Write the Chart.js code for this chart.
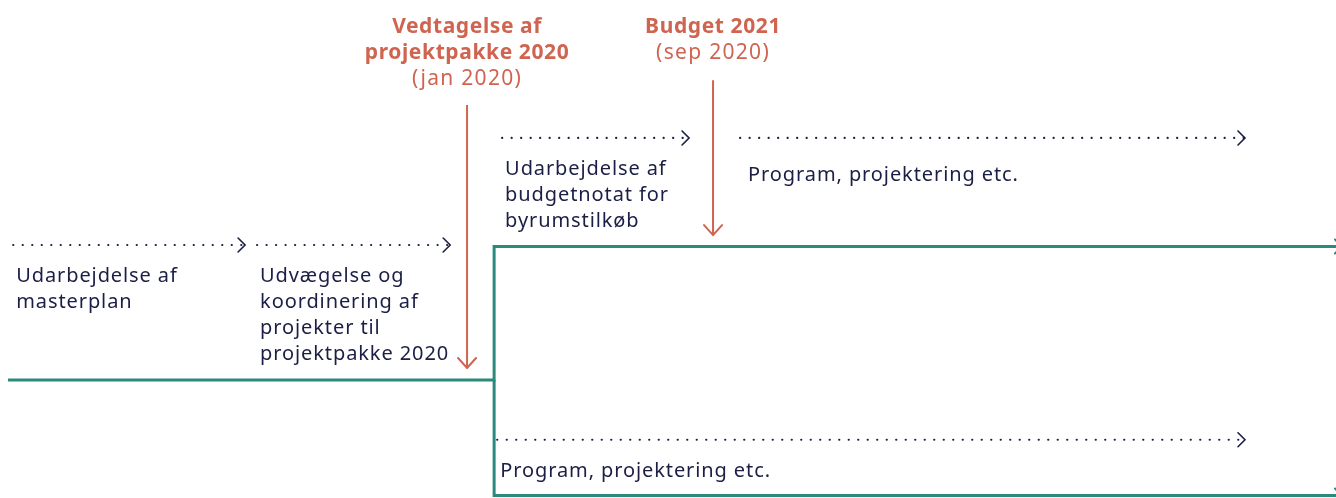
<!DOCTYPE html>
<html>
<head>
<meta charset="utf-8">
<script src="https://cdn.jsdelivr.net/npm/chart.js@4"></script>
<style>
  body { margin: 0; background: #fff; }
  #wrap { width: 1336px; height: 498px; }
</style>
</head>
<body>
<div id="wrap"><canvas id="timeline" width="1336" height="498"></canvas></div>
<script>
// x = months relative to jan 2020, y = vertical position in % of height
const phaseLabels = [
  ['Udarbejdelse af', 'masterplan'],
  ['Udvægelse og', 'koordinering af', 'projekter til', 'projektpakke 2020'],
  ['Udarbejdelse af', 'budgetnotat for', 'byrumstilkøb'],
  ['Program, projektering etc.'],
  ['Program, projektering etc.']
];
const phaseStart = [-14.76, -6.83, 1.14, 8.88, 0.98];
const phaseEnd = [-7.22, -0.55, 7.22, 25.3, 25.3];
const phaseLevel = [49.2, 49.2, 27.7, 27.7, 88.3];

const milestoneTitle = [['Vedtagelse af', 'projektpakke 2020'], ['Budget 2021']];
const milestoneDate = ['(jan 2020)', '(sep 2020)'];
const milestoneMonth = [0, 8];
const milestoneTop = [21.1, 16.1];
const milestoneBottom = [73.9, 47.2];

const trackX = [-14.93, 0.88, 0.88, 29.5];
const trackY = [76.3, 76.3, 49.5, 49.5];
const branchX = [0.88, 0.88, 29.5];
const branchY = [76.3, 99.5, 99.5];

const navy = '#1b1e45';
const salmon = '#cf6450';
const teal = '#2a8a7d';
const bodyFont = '"Noto Sans", sans-serif';

const pts = (xs, ys) => xs.map((x, i) => ({ x: x, y: ys[i] }));

const datasets = [];
datasets.push({ data: pts(trackX, trackY), borderColor: teal, borderWidth: 3, tip: 'teal' });
datasets.push({ data: pts(branchX, branchY), borderColor: teal, borderWidth: 3, tip: 'teal' });
phaseStart.forEach((s, i) => {
  datasets.push({
    data: [{ x: s, y: phaseLevel[i] }, { x: phaseEnd[i], y: phaseLevel[i] }],
    borderColor: navy, borderWidth: 2.2, borderDash: [0.1, 9.4], borderCapStyle: 'round',
    tip: 'dots', label: phaseLabels[i]
  });
});
milestoneMonth.forEach((m, i) => {
  datasets.push({
    data: [{ x: m, y: milestoneTop[i] }, { x: m, y: milestoneBottom[i] }],
    borderColor: salmon, borderWidth: 2, tip: 'down', title: milestoneTitle[i], date: milestoneDate[i]
  });
});

const decor = {
  id: 'decor',
  afterDatasetsDraw(chart) {
    const ctx = chart.ctx;
    const xs = chart.scales.x, ys = chart.scales.y;
    ctx.save();
    chart.data.datasets.forEach((ds) => {
      const last = ds.data[ds.data.length - 1];
      const first = ds.data[0];
      const px = xs.getPixelForValue(last.x), py = ys.getPixelForValue(last.y);
      ctx.lineCap = 'round';
      ctx.lineJoin = 'miter';
      ctx.letterSpacing = '0px';
      if (ds.tip === 'dots' || ds.tip === 'teal') {
        ctx.strokeStyle = ds.borderColor;
        ctx.lineWidth = ds.tip === 'teal' ? 2 : 1.6;
        const tx = ds.tip === 'teal' ? 1342 : px;
        ctx.beginPath();
        ctx.moveTo(tx - 7, py - 7);
        ctx.lineTo(tx, py);
        ctx.lineTo(tx - 7, py + 7);
        ctx.stroke();
      }
      if (ds.tip === 'dots') {
        const sx = xs.getPixelForValue(first.x);
        ctx.fillStyle = navy;
        ctx.font = '20px ' + bodyFont;
        ctx.letterSpacing = '0.9px';
        ctx.textAlign = 'left';
        ctx.textBaseline = 'alphabetic';
        const off = ds.label.length === 1 && first.y < 50 ? [8, 43] : [3, 37];
        ds.label.forEach((t, k) => ctx.fillText(t, sx + off[0], py + off[1] + k * 26));
      }
      if (ds.tip === 'down') {
        ctx.strokeStyle = salmon;
        ctx.lineWidth = 2;
        ctx.beginPath();
        ctx.moveTo(px - 9, py - 10);
        ctx.lineTo(px, py);
        ctx.lineTo(px + 9, py - 10);
        ctx.stroke();
        ctx.fillStyle = salmon;
        ctx.textAlign = 'center';
        ctx.font = 'bold 21px ' + bodyFont;
        ctx.letterSpacing = '0.6px';
        ds.title.forEach((t, k) => ctx.fillText(t, px, 33 + k * 26));
        ctx.font = '21px ' + bodyFont;
        ctx.letterSpacing = '1.3px';
        ctx.fillText(ds.date, px, 33 + ds.title.length * 26);
      }
    });
    ctx.restore();
  }
};

new Chart(document.getElementById('timeline'), {
  type: 'line',
  data: { datasets: datasets },
  options: {
    responsive: false,
    animation: false,
    layout: { padding: 0 },
    elements: { point: { radius: 0 }, line: { tension: 0, fill: false } },
    scales: {
      x: { type: 'linear', min: -15.19, max: 28.26, display: false },
      y: { type: 'linear', min: 0, max: 100, reverse: true, display: false }
    },
    plugins: { legend: { display: false }, tooltip: { enabled: false } }
  },
  plugins: [decor]
});
</script>
</body>
</html>
